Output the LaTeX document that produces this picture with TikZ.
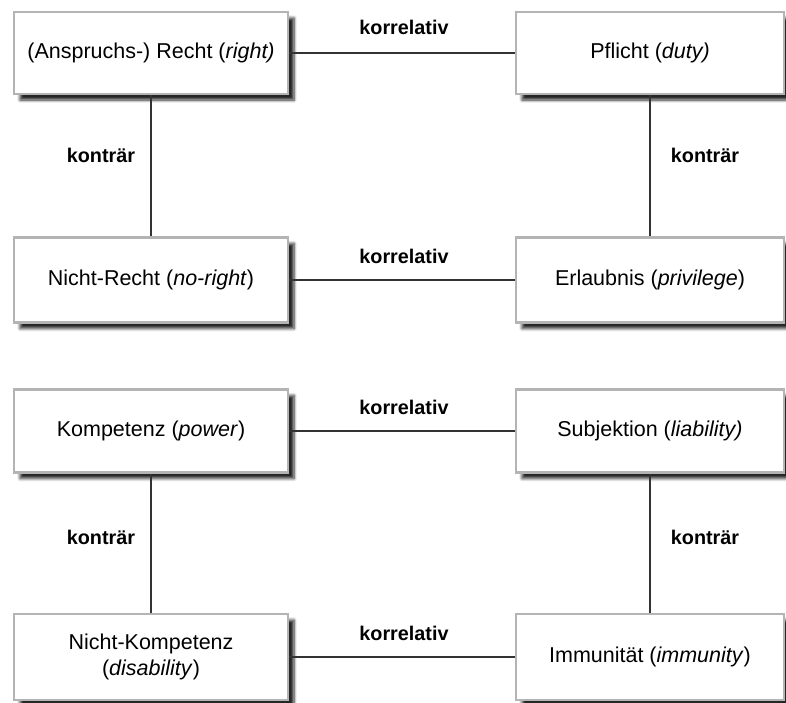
\documentclass[tikz,border=0pt]{standalone}
\usepackage{fontspec}
\setmainfont{Liberation Sans}
\usetikzlibrary{shadows.blur}
\definecolor{boxgray}{HTML}{B4B4B4}
\definecolor{linegray}{HTML}{333333}
\begin{document}
\begin{tikzpicture}[x=1pt,y=-1pt,
  basebox/.style={draw=boxgray, line width=2.2pt, fill=white, align=center,
    inner sep=0pt, font=\fontsize{21.5}{26}\selectfont,
    blur shadow={shadow xshift=6pt, shadow yshift=-6pt, shadow blur steps=6,
      shadow blur radius=3pt, shadow opacity=85}},
  lbox/.style={basebox, minimum width=274pt, minimum height=#1},
  rbox/.style={basebox, minimum width=268pt, minimum height=#1},
  lbl/.style={font=\bfseries\fontsize{19.8}{24}\selectfont, text=black},
  link/.style={draw=linegray, line width=1.6pt}]
\useasboundingbox (0,0) rectangle (786,702);

% first square: rights and duties
\node[lbox=82pt] (recht)   at (151,53)  {(Anspruchs-) Recht (\textit{right)}};
\node[rbox=82pt] (pflicht) at (650,53)  {Pflicht (\textit{duty)}};
\node[lbox=85pt] (nrecht)  at (151,280) {Nicht-Recht (\textit{no-right})};
\node[rbox=85pt] (erlaub)  at (650,280) {Erlaubnis (\textit{privilege})};

% second square: powers and liabilities
\node[lbox=83pt] (komp)    at (151,431) {Kompetenz (\textit{power})};
\node[rbox=83pt] (subj)    at (650,431) {Subjektion (\textit{liability)}};
\node[lbox=86pt] (nkomp)   at (151,657) {Nicht-Kompetenz\\(\textit{disability})};
\node[rbox=86pt] (immun)   at (650,657) {Immunität (\textit{immunity})};

% connectors
\draw[link] (recht.east) -- (pflicht.west);
\draw[link] (recht.south) -- (nrecht.north);
\draw[link] (pflicht.south) -- (erlaub.north);
\draw[link] (nrecht.east) -- (erlaub.west);
\draw[link] (komp.east) -- (subj.west);
\draw[link] (komp.south) -- (nkomp.north);
\draw[link] (subj.south) -- (immun.north);
\draw[link] (nkomp.east) -- (immun.west);

% relation labels
\node[lbl] (k1) at (404,27)  {korrelativ};
\node[lbl] (k2) at (404,256) {korrelativ};
\node[lbl] (k3) at (404,407) {korrelativ};
\node[lbl] (k4) at (404,633) {korrelativ};
\node[lbl] (c1) at (101,155) {konträr};
\node[lbl] (c2) at (705,155) {konträr};
\node[lbl] (c3) at (101,537) {konträr};
\node[lbl] (c4) at (705,537) {konträr};
\end{tikzpicture}
\end{document}
